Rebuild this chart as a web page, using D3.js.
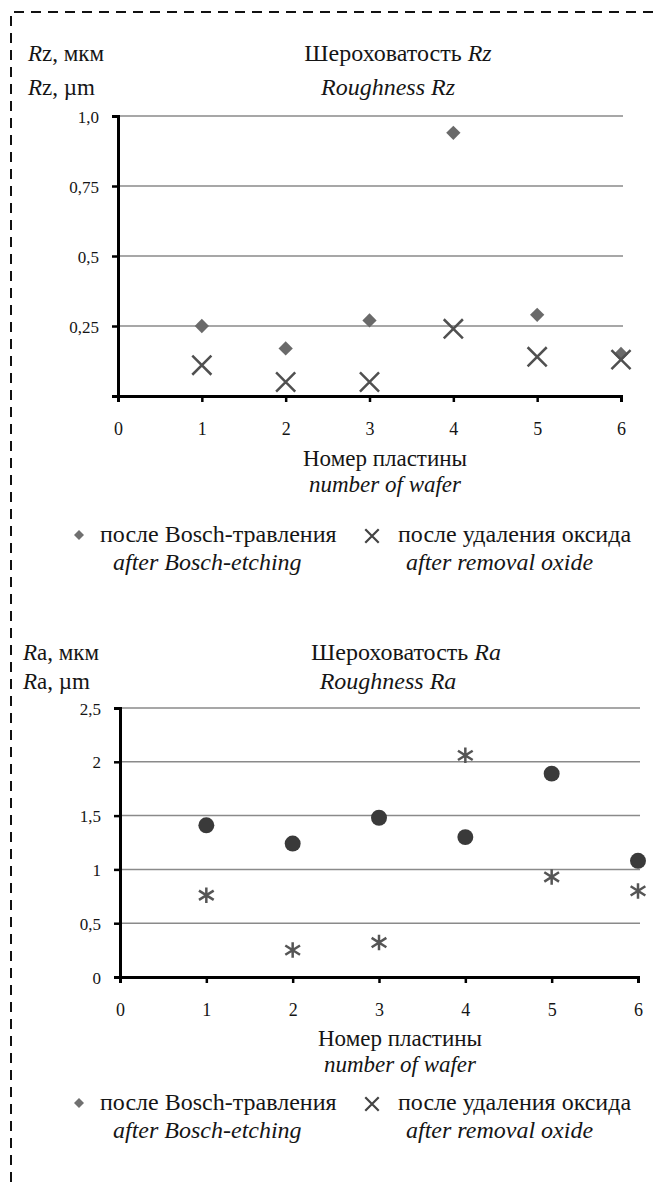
<!DOCTYPE html>
<html>
<head>
<meta charset="utf-8">
<script src="https://cdn.jsdelivr.net/npm/d3@7"></script>
<style>
  body { margin: 0; background: #fff; }
  svg { display: block; }
  svg text { fill: #151515; }
  .grid line { stroke: #8a8a8a; stroke-width: 1.5; }
</style>
</head>
<body>
<script>
// ---- data ----
var wafers = [1, 2, 3, 4, 5, 6];
var xTicks = [0, 1, 2, 3, 4, 5, 6];

var rzBosch = [0.25, 0.17, 0.27, 0.94, 0.29, 0.15];
var rzOxide = [0.11, 0.05, 0.05, 0.24, 0.14, 0.13];
var rzTicks = [0.25, 0.5, 0.75, 1.0];
var rzTickLabels = ["0,25", "0,5", "0,75", "1,0"];

var raBosch = [1.41, 1.24, 1.48, 1.30, 1.89, 1.08];
var raOxide = [0.76, 0.25, 0.32, 2.06, 0.93, 0.80];
var raTicks = [0, 0.5, 1, 1.5, 2, 2.5];
var raTickLabels = ["0", "0,5", "1", "1,5", "2", "2,5"];

var width = 659;
var height = 1182;
var serif = '"Liberation Serif", "Times New Roman", serif';

var svg = d3.select("body").append("svg")
  .attr("width", width)
  .attr("height", height)
  .attr("font-family", serif);

// dashed frame (top and left edges visible)
svg.append("path")
  .attr("d", "M11," + height + "V12H" + width)
  .attr("fill", "none")
  .attr("stroke", "#111")
  .attr("stroke-width", 2)
  .attr("stroke-dasharray", "10,7");

// custom asterisk: X plus a vertical bar
var asterisk = {
  draw: function(ctx, size) {
    var r = Math.sqrt(size) / 2;
    var dx = r * 0.95, dy = r * 0.6;
    ctx.moveTo(0, -r); ctx.lineTo(0, r);
    ctx.moveTo(-dx, -dy); ctx.lineTo(dx, dy);
    ctx.moveTo(-dx, dy); ctx.lineTo(dx, -dy);
  }
};

function addText(g, x, y, size, italic) {
  return g.append("text")
    .attr("x", x).attr("y", y)
    .style("font-family", serif)
    .style("font-size", size + "px")
    .style("font-style", italic ? "italic" : "normal");
}

function drawPanel(cfg) {
  var g = svg.append("g");

  var x = d3.scaleLinear().domain([0, 6]).range([cfg.left, cfg.right]);
  var y = d3.scaleLinear().domain([0, cfg.yMax]).range([cfg.bottom, cfg.top]);

  // horizontal grid
  g.append("g").attr("class", "grid")
    .selectAll("line")
    .data(cfg.yTicks.filter(function(d) { return d > 0; }))
    .enter().append("line")
    .attr("x1", x(0)).attr("x2", x(6) + 2)
    .attr("y1", function(d) { return y(d); })
    .attr("y2", function(d) { return y(d); });

  // y axis
  var yAxis = d3.axisLeft(y)
    .tickValues(cfg.yTicks)
    .tickSize(6)
    .tickPadding(13)
    .tickFormat(function(d, i) { return cfg.yLabels[i]; });
  var ya = g.append("g")
    .attr("transform", "translate(" + x(0) + ",0)")
    .call(yAxis)
    .attr("font-family", serif);
  ya.select(".domain").attr("stroke", "#000").attr("stroke-width", 3);
  ya.selectAll(".tick line").attr("stroke", "#000").attr("stroke-width", 2.5);
  ya.selectAll(".tick text").attr("dy", "0.36em")
    .style("font-family", serif).style("font-size", "17px");

  // x axis
  var xAxis = d3.axisBottom(x)
    .tickValues(xTicks)
    .tickSize(6)
    .tickPadding(20)
    .tickFormat(function(d) { return d; });
  var xa = g.append("g")
    .attr("transform", "translate(0," + y(0) + ")")
    .call(xAxis)
    .attr("font-family", serif);
  xa.select(".domain").attr("stroke", "#000").attr("stroke-width", 3);
  xa.selectAll(".tick line").attr("stroke", "#000").attr("stroke-width", 2.5);
  xa.selectAll(".tick text").style("font-family", serif).style("font-size", "18px");

  // series
  var s1 = d3.symbol().type(cfg.bosch.type).size(cfg.bosch.size);
  g.append("g").selectAll("path")
    .data(cfg.boschData)
    .enter().append("path")
    .attr("d", s1)
    .attr("transform", function(d, i) {
      return "translate(" + x(wafers[i]) + "," + y(d) + ")";
    })
    .attr("fill", cfg.bosch.color);

  var s2 = d3.symbol().type(cfg.oxide.type).size(cfg.oxide.size);
  g.append("g").selectAll("path")
    .data(cfg.oxideData)
    .enter().append("path")
    .attr("d", s2)
    .attr("transform", function(d, i) {
      return "translate(" + x(wafers[i]) + "," + y(d) + ")";
    })
    .attr("fill", "none")
    .attr("stroke", cfg.oxide.color)
    .attr("stroke-width", 2.5);

  // y label
  var yl1 = addText(g, cfg.yLabelX, cfg.titleY, 23, false);
  yl1.append("tspan").style("font-style", "italic").text("R");
  yl1.append("tspan").text(cfg.sub + ", мкм");
  var yl2 = addText(g, cfg.yLabelX, cfg.titleY + cfg.titleGap, 23, false);
  yl2.append("tspan").style("font-style", "italic").text("R");
  yl2.append("tspan").text(cfg.sub + ", \u00b5m");

  // title
  var t1 = addText(g, cfg.titleX, cfg.titleY, 24, false).attr("text-anchor", "middle");
  t1.append("tspan").text("Шероховатость ");
  t1.append("tspan").style("font-style", "italic").text("R" + cfg.sub);
  addText(g, cfg.subtitleX, cfg.titleY + cfg.titleGap, 24, true).attr("text-anchor", "middle")
    .text(cfg.subtitle);

  // x title
  addText(g, cfg.xTitleX, cfg.xTitleY, 23, false).attr("text-anchor", "middle")
    .text("Номер пластины");
  addText(g, cfg.xTitleX, cfg.xTitleY + 26, 23, true).attr("text-anchor", "middle")
    .text("number of wafer");

  // legend
  var ly = cfg.legendY;
  g.append("path")
    .attr("d", d3.symbol().type(d3.symbolDiamond2).size(64)())
    .attr("transform", "translate(79," + (ly - 7) + ")")
    .attr("fill", "#707070");
  addText(g, 100, ly, 24, false).text("после Bosch-травления");
  addText(g, 113, ly + 28, 24, true).text("after Bosch-etching");

  g.append("path")
    .attr("d", d3.symbol().type(d3.symbolX).size(120)())
    .attr("transform", "translate(372," + (ly - 6) + ")")
    .attr("fill", "none").attr("stroke", "#444").attr("stroke-width", 2.2);
  addText(g, 398, ly, 24, false).text("после удаления оксида");
  addText(g, 406, ly + 28, 24, true).text("after removal oxide");
}

drawPanel({
  left: 118, right: 621, top: 116, bottom: 396, yMax: 1.0,
  yTicks: rzTicks, yLabels: rzTickLabels,
  boschData: rzBosch, oxideData: rzOxide,
  bosch: { type: d3.symbolDiamond2, size: 130, color: "#6a6a6a" },
  oxide: { type: d3.symbolX, size: 240, color: "#505050" },
  sub: "z", subtitle: "Roughness Rz",
  yLabelX: 28, titleX: 398, subtitleX: 388, titleY: 61, titleGap: 34,
  xTitleX: 385, xTitleY: 466,
  legendY: 542
});

drawPanel({
  left: 120, right: 638, top: 708, bottom: 977, yMax: 2.5,
  yTicks: raTicks, yLabels: raTickLabels,
  boschData: raBosch, oxideData: raOxide,
  bosch: { type: d3.symbolCircle, size: 200, color: "#3a3a3a" },
  oxide: { type: asterisk, size: 240, color: "#555555" },
  sub: "a", subtitle: "Roughness  Ra",
  yLabelX: 23, titleX: 406, subtitleX: 388, titleY: 660, titleGap: 29,
  xTitleX: 400, xTitleY: 1046,
  legendY: 1110
});
</script>
</body>
</html>
